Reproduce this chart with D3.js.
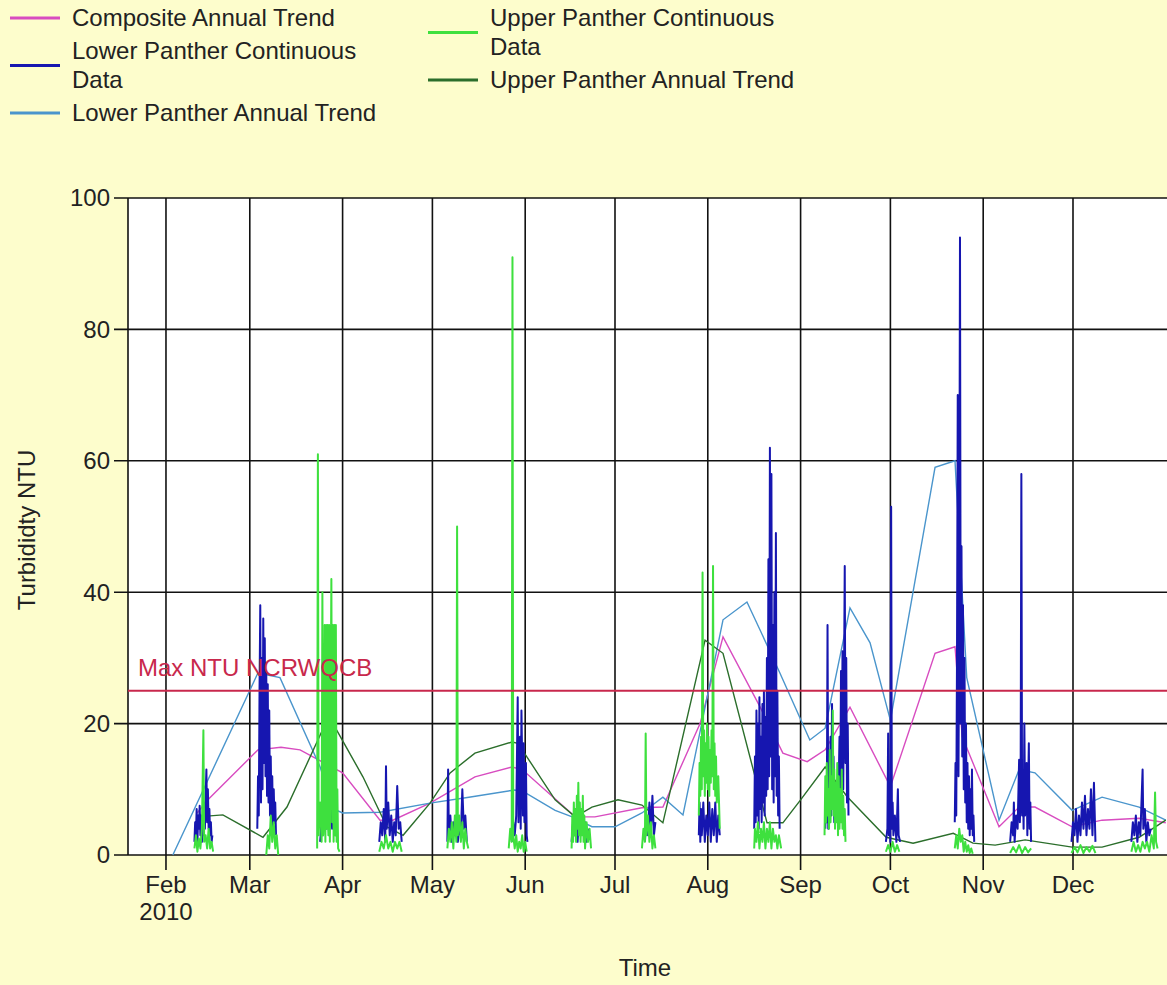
<!DOCTYPE html>
<html>
<head>
<meta charset="utf-8">
<script src="https://cdnjs.cloudflare.com/ajax/libs/d3/7.8.5/d3.min.js"></script>
<style>
  body { margin: 0; background: #fdfdcc; }
  svg { display: block; font-family: "Liberation Sans", Arial, sans-serif; }
</style>
</head>
<body>
<svg width="1167" height="985"></svg>
<script>
// ---- data ----
var seriesNames = ["Composite Annual Trend", "Lower Panther Continuous Data", "Lower Panther Annual Trend",
  "Upper Panther Continuous Data", "Upper Panther Annual Trend"];
var seriesColors = ["#d84cc0", "#1616b0", "#4a95cc", "#3ee03e", "#2b6e2b"];

var yTicks = [0, 20, 40, 60, 80, 100];
var monthLabels = ["Feb", "Mar", "Apr", "May", "Jun", "Jul", "Aug", "Sep", "Oct", "Nov", "Dec"];
var yearLabel = "2010";
var maxNtu = 25;
var maxNtuLabel = "Max NTU NCRWQCB";

// dates are "MM-DD HH" in 2010 unless a year is given
var compositeTrend = [["02-11 10", 6.4], ["02-15 00", 8.4], ["03-03 17", 16], ["03-11 10", 16.4], ["03-17 19", 16],
  ["04-01 00", 12.5], ["04-13 12", 5.3], ["04-17 19", 5.3], ["04-30 05", 7.9], ["05-15 05", 11.9], ["05-27 14", 13.4],
  ["05-31 00", 13], ["06-17 17", 5.8], ["06-24 07", 5.8], ["07-10 00", 7.2], ["07-17 00", 7.3], ["07-29 10", 20],
  ["08-06 02", 33.2], ["08-18 12", 22.5], ["08-26 02", 15.5], ["09-03 05", 14.2], ["09-09 05", 16], ["09-17 12", 22.5],
  ["10-01 00", 10.4], ["10-15 22", 30.7], ["10-22 14", 31.7], ["10-25 00", 18], ["11-06 07", 4.3], ["11-13 00", 7.3],
  ["11-18 07", 7.3], ["11-30 17", 4.3], ["12-10 17", 5.3], ["12-23 02", 5.6], ["2011-01-01 00", 4.9]];

var lowerTrend = [["02-03 07", 0], ["03-03 17", 27.7], ["03-11 02", 27], ["03-24 12", 13.4], ["03-29 00", 7],
  ["04-01 00", 6.4], ["04-13 12", 6.5], ["04-30 05", 7.9], ["05-13 05", 8.8], ["05-28 12", 9.9], ["06-01 00", 9.5],
  ["06-11 00", 6.8], ["06-16 17", 5.8], ["06-23 07", 4.3], ["07-01 00", 4.3], ["07-10 00", 6.4], ["07-17 00", 8.8],
  ["07-23 17", 6.1], ["08-06 02", 35.8], ["08-14 02", 38.5], ["08-18 12", 34.2], ["08-25 02", 27.7], ["09-04 02", 17.5],
  ["09-09 05", 19.3], ["09-17 12", 37.6], ["09-24 05", 32.3], ["10-01 00", 20.5], ["10-15 22", 59], ["10-22 14", 60],
  ["10-26 12", 27], ["11-06 07", 5.3], ["11-13 00", 13], ["11-18 07", 12.5], ["11-30 17", 6.8], ["12-10 17", 8.8],
  ["12-23 02", 7.3], ["2011-01-01 00", 5.3]];

var upperTrend = [["02-11 10", 5.8], ["02-20 00", 6.1], ["03-05 10", 2.7], ["03-13 10", 7.3], ["03-26 19", 20.5],
  ["03-28 19", 20], ["04-07 19", 11.9], ["04-15 19", 4.3], ["04-21 05", 3], ["04-30 05", 7.9], ["05-06 22", 12.5],
  ["05-15 05", 15.5], ["05-27 14", 17.2], ["05-29 14", 17], ["06-11 00", 8.4], ["06-17 17", 5.8], ["06-23 07", 7.3],
  ["07-02 00", 8.4], ["07-10 00", 7.6], ["07-17 00", 4.9], ["07-31 02", 32.7], ["08-06 02", 30.7], ["08-20 19", 4.9],
  ["08-26 02", 4.9], ["09-01 00", 8.4], ["09-09 05", 13.4], ["09-16 12", 8.9], ["09-29 14", 2.7], ["10-08 14", 1.8],
  ["10-22 00", 3.3], ["10-28 14", 1.8], ["11-05 00", 1.5], ["11-15 00", 2.3], ["11-30 17", 1.2], ["12-10 17", 1.2],
  ["12-23 02", 2.7], ["2011-01-01 00", 5.3]];

// continuous sensor records, one array per deployment
var lowerBursts = [
  [["02-10 12", 2], ["02-10 18", 5], ["02-11 00", 3], ["02-11 06", 7], ["02-11 12", 2], ["02-11 18", 6], ["02-12 00", 4],
   ["02-12 06", 7.5], ["02-12 12", 3], ["02-12 18", 6], ["02-13 00", 2], ["02-13 06", 5], ["02-13 12", 3], ["02-13 18", 8],
   ["02-14 00", 4], ["02-14 06", 9], ["02-14 12", 13], ["02-14 18", 5], ["02-15 00", 10], ["02-15 06", 4], ["02-15 12", 7],
   ["02-15 18", 3], ["02-16 00", 5], ["02-16 06", 2], ["02-16 12", 3]],
  [["03-03 12", 4], ["03-03 18", 12], ["03-04 00", 6], ["03-04 06", 25], ["03-04 12", 38], ["03-04 18", 8], ["03-05 00", 30],
   ["03-05 06", 10], ["03-05 12", 36], ["03-05 18", 14], ["03-06 00", 33], ["03-06 06", 12], ["03-06 12", 28], ["03-06 18", 9],
   ["03-07 00", 26], ["03-07 06", 8], ["03-07 12", 22], ["03-07 18", 6], ["03-08 00", 15], ["03-08 06", 5], ["03-08 12", 12],
   ["03-08 18", 4], ["03-09 00", 10], ["03-09 06", 5], ["03-09 12", 8], ["03-09 18", 3]],
  [["03-24 12", 2], ["03-25 00", 5], ["03-25 12", 3], ["03-26 00", 7], ["03-26 12", 4], ["03-27 00", 6], ["03-27 12", 3],
   ["03-28 00", 8], ["03-28 12", 4], ["03-29 00", 6], ["03-29 12", 3], ["03-30 00", 5]],
  [["04-13 06", 2], ["04-13 18", 5], ["04-14 06", 3], ["04-14 18", 7], ["04-15 06", 2], ["04-15 12", 13.5], ["04-15 18", 4],
   ["04-16 06", 8], ["04-16 18", 3], ["04-17 06", 6], ["04-17 18", 2], ["04-18 06", 5], ["04-18 18", 3], ["04-19 06", 10.5],
   ["04-19 18", 4], ["04-20 06", 5], ["04-20 18", 2]],
  [["05-06 00", 2], ["05-06 06", 13], ["05-06 12", 3], ["05-07 00", 6], ["05-07 12", 2], ["05-08 00", 5], ["05-08 12", 3],
   ["05-09 00", 6], ["05-09 12", 2], ["05-10 00", 4], ["05-10 12", 3], ["05-11 00", 10], ["05-11 12", 4], ["05-12 00", 6],
   ["05-12 12", 2]],
  [["05-27 12", 2], ["05-28 00", 5], ["05-28 12", 3], ["05-29 00", 6], ["05-29 12", 24], ["05-29 18", 5], ["05-30 06", 18],
   ["05-30 12", 4], ["05-30 18", 22], ["05-31 06", 6], ["05-31 12", 17], ["05-31 18", 5], ["06-01 06", 14], ["06-01 12", 3],
   ["06-01 18", 2]],
  [["06-16 12", 2], ["06-17 00", 5], ["06-17 12", 3], ["06-18 00", 7], ["06-18 12", 2], ["06-19 00", 6], ["06-19 12", 4],
   ["06-20 00", 7], ["06-20 12", 3], ["06-21 00", 5], ["06-21 12", 2], ["06-22 00", 4]],
  [["07-11 00", 2], ["07-11 12", 6], ["07-12 00", 3], ["07-12 12", 8], ["07-13 00", 4], ["07-13 12", 9], ["07-14 00", 3],
   ["07-14 12", 5]],
  [["07-29 00", 3], ["07-29 06", 8], ["07-29 12", 2], ["07-29 18", 7], ["07-30 00", 3], ["07-30 12", 8], ["07-31 00", 2],
   ["07-31 12", 6], ["08-01 00", 3], ["08-01 12", 8], ["08-02 00", 2], ["08-02 12", 7], ["08-03 00", 3], ["08-03 12", 8],
   ["08-04 00", 2], ["08-04 12", 6], ["08-05 00", 3]],
  [["08-16 12", 4], ["08-16 18", 15], ["08-17 00", 5], ["08-17 06", 22], ["08-17 12", 6], ["08-17 18", 20], ["08-18 00", 4],
   ["08-18 06", 24], ["08-18 12", 7], ["08-18 18", 18], ["08-19 00", 5], ["08-19 06", 23], ["08-19 12", 8], ["08-19 18", 25],
   ["08-20 00", 6], ["08-20 06", 21], ["08-20 12", 9], ["08-20 18", 30], ["08-21 00", 10], ["08-21 06", 45], ["08-21 12", 12],
   ["08-21 18", 62], ["08-22 00", 15], ["08-22 06", 58], ["08-22 12", 10], ["08-22 18", 35], ["08-23 00", 8], ["08-23 06", 40],
   ["08-23 12", 12], ["08-23 18", 49], ["08-24 00", 9], ["08-24 06", 25], ["08-24 12", 6], ["08-24 18", 15], ["08-25 00", 4]],
  [["09-09 06", 4], ["09-09 12", 10], ["09-09 18", 5], ["09-10 00", 35], ["09-10 06", 4], ["09-10 12", 12], ["09-10 18", 5],
   ["09-11 00", 18], ["09-11 06", 6], ["09-11 12", 23], ["09-11 18", 7], ["09-12 00", 15], ["09-12 06", 5], ["09-12 12", 10],
   ["09-12 18", 6], ["09-13 00", 8], ["09-13 12", 5], ["09-14 00", 18], ["09-14 06", 9], ["09-14 12", 28], ["09-14 18", 12],
   ["09-15 00", 31], ["09-15 06", 10], ["09-15 12", 26], ["09-15 18", 44], ["09-16 00", 14], ["09-16 06", 30], ["09-16 12", 8],
   ["09-16 18", 20], ["09-17 00", 6]],
  [["09-29 12", 2], ["09-30 00", 4], ["09-30 06", 18.5], ["09-30 12", 3], ["09-30 18", 5], ["10-01 00", 2], ["10-01 06", 53],
   ["10-01 12", 4], ["10-01 18", 8], ["10-02 00", 3], ["10-02 12", 6], ["10-03 00", 2], ["10-03 12", 10], ["10-03 18", 3],
   ["10-04 06", 2]],
  [["10-22 12", 5], ["10-22 18", 14], ["10-23 00", 6], ["10-23 06", 30], ["10-23 12", 70], ["10-23 18", 12], ["10-24 00", 40],
   ["10-24 06", 94], ["10-24 12", 20], ["10-24 18", 47], ["10-25 00", 15], ["10-25 06", 38], ["10-25 12", 10], ["10-25 18", 30],
   ["10-26 00", 8], ["10-26 06", 20], ["10-26 12", 5], ["10-26 18", 14], ["10-27 00", 4], ["10-27 06", 12], ["10-27 12", 3],
   ["10-27 18", 10], ["10-28 00", 4], ["10-28 06", 13], ["10-28 12", 3], ["10-28 18", 6], ["10-29 00", 2]],
  [["11-10 00", 2], ["11-10 12", 5], ["11-11 00", 3], ["11-11 06", 8], ["11-11 12", 2], ["11-12 00", 6], ["11-12 12", 4],
   ["11-13 00", 14.5], ["11-13 06", 5], ["11-13 12", 10], ["11-13 18", 58], ["11-14 00", 6], ["11-14 06", 12], ["11-14 12", 4],
   ["11-14 18", 20], ["11-15 00", 6], ["11-15 12", 14], ["11-15 18", 3], ["11-16 06", 17], ["11-16 12", 4], ["11-16 18", 8],
   ["11-17 00", 2]],
  [["11-30 12", 2], ["12-01 00", 5], ["12-01 12", 3], ["12-02 00", 7], ["12-02 12", 2], ["12-03 00", 6], ["12-03 12", 3],
   ["12-04 00", 8], ["12-04 12", 4], ["12-05 00", 9], ["12-05 12", 3], ["12-06 00", 7], ["12-06 12", 4], ["12-07 00", 10],
   ["12-07 12", 3], ["12-08 00", 11], ["12-08 12", 2]],
  [["12-20 12", 2], ["12-21 00", 5], ["12-21 12", 3], ["12-22 00", 6], ["12-22 12", 2], ["12-23 00", 5], ["12-23 12", 3],
   ["12-24 06", 13], ["12-24 12", 4], ["12-25 00", 7], ["12-25 12", 2], ["12-26 00", 5], ["12-26 12", 3], ["12-27 00", 4]]
];

var upperBursts = [
  [["02-10 12", 1], ["02-11 00", 3], ["02-11 12", 0.5], ["02-12 00", 2.5], ["02-12 12", 1], ["02-13 00", 4], ["02-13 12", 19],
   ["02-13 18", 2], ["02-14 06", 3], ["02-14 18", 1], ["02-15 06", 4], ["02-15 18", 1], ["02-16 06", 2], ["02-16 18", 0.5]],
  [["03-06 12", 0], ["03-07 00", 3], ["03-07 12", 1], ["03-08 00", 6], ["03-08 12", 2], ["03-09 00", 5], ["03-09 12", 1],
   ["03-10 00", 3], ["03-10 12", 0]],
  [["03-23 12", 1], ["03-23 18", 61], ["03-24 00", 3], ["03-24 12", 8], ["03-25 00", 2], ["03-25 06", 40], ["03-25 12", 3],
   ["03-25 18", 6], ["03-26 00", 35], ["03-26 06", 2], ["03-26 12", 35], ["03-26 18", 4], ["03-27 00", 35], ["03-27 06", 3],
   ["03-27 12", 35], ["03-27 18", 2], ["03-28 06", 42], ["03-28 12", 5], ["03-28 18", 35], ["03-29 00", 2], ["03-29 06", 35],
   ["03-29 12", 3], ["03-29 18", 35], ["03-30 00", 2], ["03-30 06", 10], ["03-30 12", 1], ["03-31 00", 0.5]],
  [["04-13 06", 0.5], ["04-14 00", 2], ["04-14 18", 1], ["04-15 12", 3], ["04-16 06", 1], ["04-17 00", 2], ["04-17 18", 0.5],
   ["04-18 12", 2], ["04-19 06", 1], ["04-20 00", 2], ["04-20 18", 0.5]],
  [["05-06 00", 1], ["05-06 12", 4], ["05-07 00", 2], ["05-07 12", 5], ["05-08 00", 1], ["05-08 12", 6], ["05-09 00", 2],
   ["05-09 06", 50], ["05-09 12", 3], ["05-10 00", 6], ["05-10 12", 2], ["05-11 00", 5], ["05-11 12", 1], ["05-12 00", 4],
   ["05-12 12", 2], ["05-13 00", 1]],
  [["05-26 12", 1], ["05-27 00", 4], ["05-27 12", 2], ["05-27 18", 91], ["05-28 00", 3], ["05-28 12", 1], ["05-29 00", 3],
   ["05-29 12", 0.5], ["05-30 00", 2], ["05-30 12", 1], ["05-31 00", 3], ["05-31 12", 0.5], ["06-01 00", 2], ["06-01 12", 0.5]],
  [["06-16 12", 1], ["06-16 18", 6], ["06-17 00", 2], ["06-17 06", 8], ["06-17 12", 3], ["06-17 18", 7], ["06-18 00", 2],
   ["06-18 06", 9], ["06-18 12", 4], ["06-18 18", 11], ["06-19 00", 3], ["06-19 06", 8], ["06-19 12", 2], ["06-19 18", 7],
   ["06-20 00", 3], ["06-20 06", 9], ["06-20 12", 2], ["06-20 18", 6], ["06-21 00", 1], ["06-21 12", 5], ["06-22 00", 2],
   ["06-22 12", 4], ["06-23 00", 1]],
  [["07-10 00", 1], ["07-10 12", 4], ["07-11 00", 2], ["07-11 06", 18.5], ["07-11 12", 3], ["07-12 00", 6], ["07-12 12", 2],
   ["07-13 00", 5], ["07-13 12", 1], ["07-14 00", 3], ["07-14 12", 1]],
  [["07-29 00", 6], ["07-29 06", 14], ["07-29 12", 9], ["07-29 18", 18], ["07-30 00", 10], ["07-30 06", 43], ["07-30 12", 12],
   ["07-30 18", 19], ["07-31 00", 9], ["07-31 06", 17], ["07-31 12", 11], ["07-31 18", 20], ["08-01 00", 10], ["08-01 06", 18],
   ["08-01 12", 9], ["08-01 18", 16], ["08-02 00", 11], ["08-02 06", 19], ["08-02 12", 12], ["08-02 18", 44], ["08-03 00", 10],
   ["08-03 06", 17], ["08-03 12", 9], ["08-03 18", 15], ["08-04 00", 8], ["08-04 12", 12], ["08-05 00", 4]],
  [["08-16 12", 1], ["08-16 18", 4], ["08-17 06", 2], ["08-17 18", 5], ["08-18 06", 1], ["08-18 18", 4], ["08-19 06", 2],
   ["08-19 18", 5], ["08-20 06", 1], ["08-20 18", 4], ["08-21 06", 2], ["08-21 18", 5], ["08-22 06", 1], ["08-22 18", 4],
   ["08-23 06", 2], ["08-23 18", 3], ["08-24 06", 1], ["08-24 18", 3], ["08-25 12", 1]],
  [["09-09 00", 3], ["09-09 06", 12], ["09-09 12", 5], ["09-09 18", 14], ["09-10 00", 6], ["09-10 06", 10], ["09-10 12", 4],
   ["09-10 18", 16], ["09-11 00", 5], ["09-11 06", 12], ["09-11 12", 7], ["09-11 18", 22], ["09-12 00", 6], ["09-12 06", 13],
   ["09-12 12", 4], ["09-12 18", 11], ["09-13 00", 5], ["09-13 06", 14], ["09-13 12", 3], ["09-13 18", 12], ["09-14 00", 4],
   ["09-14 06", 10], ["09-14 12", 5], ["09-14 18", 13], ["09-15 00", 4], ["09-15 06", 9], ["09-15 12", 3], ["09-15 18", 7],
   ["09-16 00", 2]],
  [["09-29 12", 0.5], ["09-30 06", 1.5], ["10-01 00", 0.5], ["10-01 18", 2], ["10-02 12", 0.5], ["10-03 06", 1.5], ["10-04 00", 0.5]],
  [["10-22 12", 1], ["10-23 00", 3], ["10-23 12", 1], ["10-24 00", 4], ["10-24 12", 2], ["10-25 00", 3], ["10-25 12", 0.5],
   ["10-26 00", 2], ["10-26 12", 0.5], ["10-27 00", 1.5], ["10-27 12", 0.3], ["10-28 00", 1], ["10-28 12", 0.2]],
  [["11-10 00", 0.3], ["11-11 00", 1.2], ["11-12 00", 0.4], ["11-13 00", 1.5], ["11-14 00", 0.3], ["11-15 00", 1.2],
   ["11-16 00", 0.4], ["11-17 00", 1]],
  [["11-30 12", 0.3], ["12-01 12", 1.2], ["12-02 12", 0.4], ["12-03 12", 1.5], ["12-04 12", 0.3], ["12-05 12", 1.2],
   ["12-06 12", 0.5], ["12-07 12", 1.4], ["12-08 12", 0.3]],
  [["12-20 12", 0.5], ["12-21 06", 2], ["12-22 00", 0.5], ["12-22 18", 1.5], ["12-23 12", 0.5], ["12-24 06", 2], ["12-25 00", 1],
   ["12-25 18", 2], ["12-26 12", 0.5], ["12-27 06", 3], ["12-28 00", 1], ["12-28 10", 9.5], ["12-28 18", 2], ["12-29 06", 1]]
];

// ---- chart ----
var parseFull = d3.timeParse("%Y-%m-%d %H");
function toDate(s) { return parseFull(s.length > 8 ? s : "2010-" + s); }

var svg = d3.select("svg"),
  margin = { top: 198, right: 0, bottom: 130, left: 128 },
  width = +svg.attr("width") - margin.left - margin.right,
  height = +svg.attr("height") - margin.top - margin.bottom;

svg.append("rect").attr("width", +svg.attr("width")).attr("height", +svg.attr("height")).attr("fill", "#fdfdcc");

var g = svg.append("g").attr("transform", "translate(" + margin.left + "," + margin.top + ")");

var x = d3.scaleTime()
  .domain([new Date(2010, 0, 19, 7, 30), new Date(2011, 0, 1, 9, 40)])
  .range([0, width]);
var y = d3.scaleLinear().domain([0, 100]).range([height, 0]);

var months = d3.timeMonth.range(new Date(2010, 1, 1), new Date(2010, 11, 2));

g.append("rect").attr("width", width).attr("height", height).attr("fill", "#fff");

svg.append("defs").append("clipPath").attr("id", "plot")
  .append("rect").attr("x", 0).attr("y", -1).attr("width", width).attr("height", height + 2);

// grid
g.append("g").selectAll("line").data(months).enter().append("line")
  .attr("x1", function (d) { return x(d); }).attr("x2", function (d) { return x(d); })
  .attr("y1", 0).attr("y2", height + 15)
  .attr("stroke", "#111").attr("stroke-width", 1.6);
g.append("g").selectAll("line").data(yTicks).enter().append("line")
  .attr("x1", -14).attr("x2", width)
  .attr("y1", function (d) { return y(d); }).attr("y2", function (d) { return y(d); })
  .attr("stroke", "#111").attr("stroke-width", 1.6);
g.append("line").attr("x1", 0).attr("x2", 0).attr("y1", 0).attr("y2", height)
  .attr("stroke", "#111").attr("stroke-width", 1.6);

var line = d3.line()
  .x(function (d) { return x(toDate(d[0])); })
  .y(function (d) { return y(d[1]); });

var plot = g.append("g").attr("clip-path", "url(#plot)");

// annual trends
[[compositeTrend, 0], [lowerTrend, 2], [upperTrend, 4]].forEach(function (t) {
  plot.append("path").datum(t[0])
    .attr("fill", "none").attr("stroke", seriesColors[t[1]]).attr("stroke-width", 1.4)
    .attr("d", line);
});

// continuous data
plot.append("g").selectAll("path").data(lowerBursts).enter().append("path")
  .attr("fill", "none").attr("stroke", seriesColors[1]).attr("stroke-width", 2)
  .attr("stroke-linejoin", "round")
  .attr("d", line);
plot.append("g").selectAll("path").data(upperBursts).enter().append("path")
  .attr("fill", "none").attr("stroke", seriesColors[3]).attr("stroke-width", 2)
  .attr("stroke-linejoin", "round")
  .attr("d", line);

// regulatory limit
g.append("line").attr("x1", 0).attr("x2", width).attr("y1", y(maxNtu)).attr("y2", y(maxNtu))
  .attr("stroke", "#c8284c").attr("stroke-width", 2);
g.append("text").attr("x", 10).attr("y", y(maxNtu) - 15)
  .attr("fill", "#c8284c").attr("font-size", 24).text(maxNtuLabel);

// tick labels
g.append("g").selectAll("text").data(yTicks).enter().append("text")
  .attr("x", -18).attr("y", function (d) { return y(d); }).attr("dy", "0.35em")
  .attr("text-anchor", "end").attr("font-size", 24).attr("fill", "#222")
  .text(function (d) { return d; });
g.append("g").selectAll("text").data(months).enter().append("text")
  .attr("x", function (d) { return x(d); }).attr("y", height + 30).attr("dy", "0.35em")
  .attr("text-anchor", "middle").attr("font-size", 24).attr("fill", "#222")
  .text(function (d, i) { return monthLabels[i]; });
g.append("text").attr("x", x(months[0])).attr("y", height + 57).attr("dy", "0.35em")
  .attr("text-anchor", "middle").attr("font-size", 24).attr("fill", "#222").text(yearLabel);

// axis titles
g.append("text").attr("x", 517).attr("y", height + 113).attr("dy", "0.35em")
  .attr("text-anchor", "middle").attr("font-size", 24).attr("fill", "#222").text("Time");
svg.append("text").attr("transform", "translate(27,530) rotate(-90)").attr("dy", "0.35em")
  .attr("text-anchor", "middle").attr("font-size", 24).attr("fill", "#222").text("Turbididty NTU");

// legend, two columns, long names wrapped
var legendCols = [{ x: 10, items: [0, 1, 2] }, { x: 428, items: [3, 4] }];
legendCols.forEach(function (col) {
  var cy = 18;
  col.items.forEach(function (k) {
    var words = seriesNames[k].split(" "), lines = [], cur = "";
    var probe = svg.append("text").attr("font-size", 24);
    words.forEach(function (w) {
      var next = cur ? cur + " " + w : w;
      probe.text(next);
      if (cur && probe.node().getComputedTextLength() > 320) { lines.push(cur); cur = w; } else { cur = next; }
    });
    lines.push(cur);
    probe.remove();
    var top = cy;
    lines.forEach(function (l, j) {
      svg.append("text").attr("x", col.x + 62).attr("y", top + j * 29).attr("dy", "0.35em")
        .attr("font-size", 24).attr("fill", "#222").text(l);
    });
    var mid = top + (lines.length - 1) * 29 / 2;
    svg.append("line").attr("x1", col.x).attr("x2", col.x + 50).attr("y1", mid).attr("y2", mid)
      .attr("stroke", seriesColors[k]).attr("stroke-width", 3);
    cy = top + (lines.length - 1) * 29 + 33;
  });
});
</script>
</body>
</html>
